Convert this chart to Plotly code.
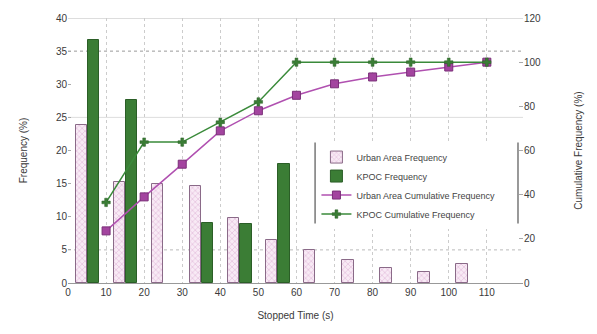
import plotly.graph_objects as go

# ---- data ----
bin_centers = [5, 15, 25, 35, 45, 55, 65, 75, 85, 95, 105]
urban_freq = [23.9, 15.3, 15.0, 14.7, 9.8, 6.5, 5.0, 3.4, 2.2, 1.7, 2.8]
kpoc_freq = [36.7, 27.6, None, 9.0, 8.9, 17.9, None, None, None, None, None]
cum_x = [10, 20, 30, 40, 50, 60, 70, 80, 90, 100, 110]
urban_cum = [23.6, 39.0, 53.8, 68.9, 78.0, 85.0, 90.2, 93.3, 95.5, 97.8, 100.0]
kpoc_cum = [36.5, 63.8, 63.8, 72.8, 82.0, 100.0, 100.0, 100.0, 100.0, 100.0, 100.0]
x_ticks = [0, 10, 20, 30, 40, 50, 60, 70, 80, 90, 100, 110]
y_ticks = [0, 5, 10, 15, 20, 25, 30, 35, 40]
y2_ticks = [0, 20, 40, 60, 80, 100, 120]

FONT = "Liberation Sans"
TXT = "#3a3a3a"

fig = go.Figure()
fig.add_trace(go.Bar(
    x=bin_centers, y=urban_freq, name="Urban Area Frequency",
    offset=-3.0, width=3.0,
    marker=dict(color="#f6e4f2", line=dict(color="#8a6a88", width=1),
                pattern=dict(shape="x", fgcolor="#d49ccb", bgcolor="#f8eaf5", size=4, solidity=0.35)),
))
fig.add_trace(go.Bar(
    x=bin_centers, y=kpoc_freq, name="KPOC Frequency",
    offset=0.2, width=3.0,
    marker=dict(color="#3b7d35", line=dict(color="#2b5e27", width=1)),
))
fig.add_trace(go.Scatter(
    x=cum_x, y=urban_cum, name="Urban Area Cumulative Frequency", yaxis="y2",
    mode="lines+markers",
    line=dict(color="#b050b0", width=1.5),
    marker=dict(symbol="square", size=8, color="#a3449f", line=dict(color="#7a2f78", width=1)),
))
fig.add_trace(go.Scatter(
    x=cum_x, y=kpoc_cum, name="KPOC Cumulative Frequency", yaxis="y2",
    mode="lines+markers",
    line=dict(color="#3a8a3a", width=1.5),
    marker=dict(symbol="cross", size=7, color="#3a7d35", line=dict(color="#2b5e27", width=0.5)),
))

shapes = []
for yv, dash, col in [(5, "dot", "#bbbbbb"), (35, "dot", "#999999"), (25, "solid", "#dddddd"), (40, "solid", "#bbbbbb")]:
    shapes.append(dict(type="line", xref="paper", x0=0, x1=1, yref="y", y0=yv, y1=yv,
                       line=dict(color=col, width=1, dash=dash), layer="below"))
# legend side borders
shapes.append(dict(type="line", xref="paper", yref="paper", x0=0.543, x1=0.543, y0=0.225, y1=0.53,
                   line=dict(color="#555555", width=1.2)))
shapes.append(dict(type="line", xref="paper", yref="paper", x0=0.989, x1=0.989, y0=0.225, y1=0.53,
                   line=dict(color="#555555", width=1.2)))

fig.update_layout(
    width=597, height=334,
    margin=dict(l=68, r=74, t=13, b=51),
    paper_bgcolor="white", plot_bgcolor="white",
    font=dict(family=FONT, size=10, color=TXT),
    barmode="overlay",
    bargap=0,
    shapes=shapes,
    xaxis=dict(range=[0, 119.5], tickvals=x_ticks, showgrid=True, gridcolor="#cccccc",
               griddash="dot", gridwidth=1, zeroline=False,
               showline=True, linecolor="#999999", linewidth=1,
               ticks="", tickfont=dict(size=10, color=TXT),
               title=dict(text="Stopped Time (s)", font=dict(size=10, color=TXT), standoff=14)),
    yaxis=dict(range=[0, 40], tickvals=y_ticks, showgrid=False, zeroline=False,
               ticks="inside", ticklen=3, tickcolor="#aaaaaa",
               tickfont=dict(size=10, color=TXT),
               title=dict(text="Frequency (%)", font=dict(size=10, color=TXT), standoff=26)),
    yaxis2=dict(range=[0, 120], tickvals=y2_ticks, overlaying="y", side="right",
                showgrid=False, zeroline=False, ticks="inside", ticklen=4, tickcolor="#aaaaaa",
                tickfont=dict(size=10, color=TXT),
                title=dict(text="Cumulative Frequency (%)", font=dict(size=10, color=TXT), standoff=34)),
    legend=dict(x=0.546, y=0.53, xanchor="left", yanchor="top",
                bgcolor="white", borderwidth=0,
                font=dict(size=9, color="#444444"), tracegroupgap=0, itemwidth=30),
    showlegend=True,
)

fig.write_html("out.html")
